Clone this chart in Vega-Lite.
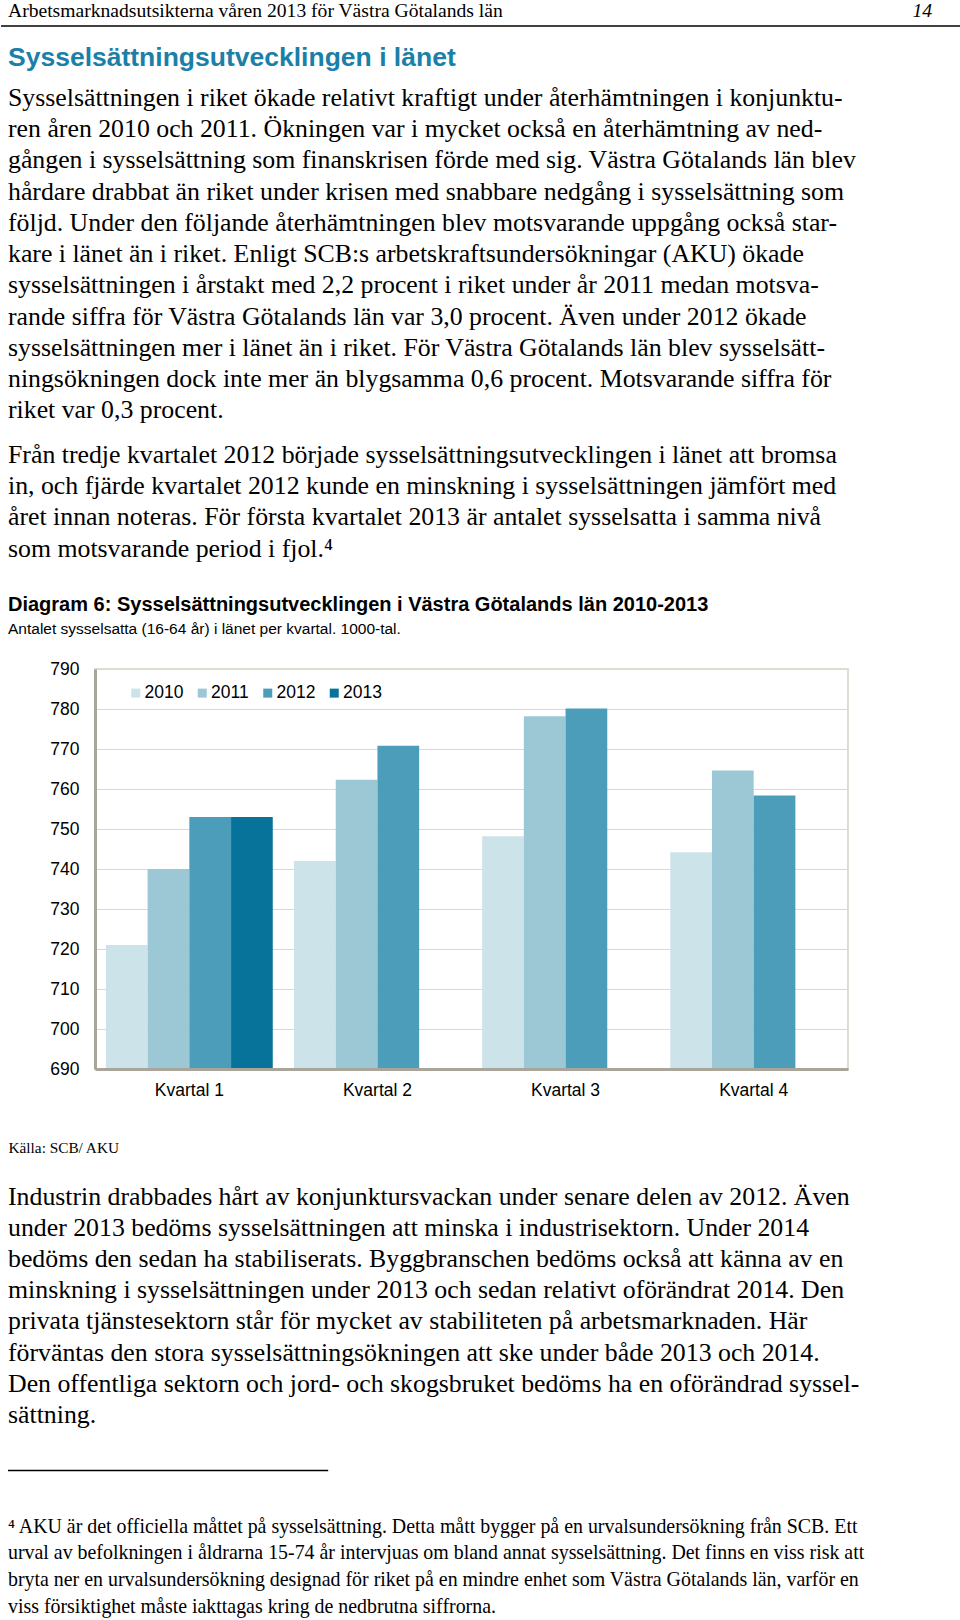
{
  "$schema": "https://vega.github.io/schema/vega-lite/v6.json",
  "background": "white",
  "padding": 0,
  "spacing": 0,
  "bounds": "full",
  "config": {"view": {"stroke": null}},
  "resolve": {"scale": {"color": "independent"}, "legend": {"color": "independent"}},
  "vconcat": [
    {
      "width": 753,
      "height": 659,
      "layer": [
        {
          "data": {"values": [{"line": 0, "text": "Arbetsmarknadsutsikterna våren 2013 för Västra Götalands län"}]},
          "mark": {"type": "text", "align": "left", "baseline": "middle", "font": "Liberation Serif", "fontSize": 19.6, "color": "#000"},
          "encoding": {
            "x": {"datum": 0, "type": "quantitative", "scale": {"domain": [0, 1], "range": [-87, 866]}, "axis": null},
            "y": {"field": "line", "type": "quantitative", "scale": {"domain": [0, 1], "range": [10.6, 40]}, "axis": null},
            "text": {"field": "text"}
          }
        },
        {
          "data": {"values": [{"line": 0, "text": "14"}]},
          "mark": {"type": "text", "align": "right", "baseline": "middle", "font": "Liberation Serif", "fontSize": 19.6, "fontStyle": "italic", "color": "#000"},
          "encoding": {
            "x": {"datum": 0.9696, "type": "quantitative", "scale": {"domain": [0, 1], "range": [-87, 866]}, "axis": null},
            "y": {"field": "line", "type": "quantitative", "scale": {"domain": [0, 1], "range": [10.6, 40]}, "axis": null},
            "text": {"field": "text"}
          }
        },
        {
          "data": {"values": [{"line": 0}]},
          "mark": {"type": "rule", "color": "#000", "strokeWidth": 1.5},
          "encoding": {
            "x": {"datum": -0.0073, "type": "quantitative", "scale": {"domain": [0, 1], "range": [-87, 866]}, "axis": null},
            "x2": {"datum": 1},
            "y": {"field": "line", "type": "quantitative", "scale": {"domain": [0, 1], "range": [26, 60]}, "axis": null}
          }
        },
        {
          "data": {"values": [{"line": 0, "text": "Sysselsättningsutvecklingen i länet"}]},
          "mark": {"type": "text", "align": "left", "baseline": "middle", "font": "Liberation Sans", "fontSize": 26.5, "fontWeight": "bold", "color": "#1b80a8"},
          "encoding": {
            "x": {"datum": 0, "type": "quantitative", "scale": {"domain": [0, 1], "range": [-87, 866]}, "axis": null},
            "y": {"field": "line", "type": "quantitative", "scale": {"domain": [0, 1], "range": [58, 90]}, "axis": null},
            "text": {"field": "text"}
          }
        },
        {
          "data": {"values": [
            {"line": 0, "text": "Sysselsättningen i riket ökade relativt kraftigt under återhämtningen i konjunktu-"},
            {"line": 1, "text": "ren åren 2010 och 2011. Ökningen var i mycket också en återhämtning av ned-"},
            {"line": 2, "text": "gången i sysselsättning som finanskrisen förde med sig. Västra Götalands län blev"},
            {"line": 3, "text": "hårdare drabbat än riket under krisen med snabbare nedgång i sysselsättning som"},
            {"line": 4, "text": "följd. Under den följande återhämtningen blev motsvarande uppgång också star-"},
            {"line": 5, "text": "kare i länet än i riket. Enligt SCB:s arbetskraftsundersökningar (AKU) ökade"},
            {"line": 6, "text": "sysselsättningen i årstakt med 2,2 procent i riket under år 2011 medan motsva-"},
            {"line": 7, "text": "rande siffra för Västra Götalands län var 3,0 procent. Även under 2012 ökade"},
            {"line": 8, "text": "sysselsättningen mer i länet än i riket. För Västra Götalands län blev sysselsätt-"},
            {"line": 9, "text": "ningsökningen dock inte mer än blygsamma 0,6 procent. Motsvarande siffra för"},
            {"line": 10, "text": "riket var 0,3 procent."}
          ]},
          "mark": {"type": "text", "align": "left", "baseline": "middle", "font": "Liberation Serif", "fontSize": 25.8, "color": "#000"},
          "encoding": {
            "x": {"datum": 0, "type": "quantitative", "scale": {"domain": [0, 1], "range": [-87, 866]}, "axis": null},
            "y": {"field": "line", "type": "quantitative", "scale": {"domain": [0, 10], "range": [98, 410.2]}, "axis": null},
            "text": {"field": "text"}
          }
        },
        {
          "data": {"values": [
            {"line": 0, "text": "Från tredje kvartalet 2012 började sysselsättningsutvecklingen i länet att bromsa"},
            {"line": 1, "text": "in, och fjärde kvartalet 2012 kunde en minskning i sysselsättningen jämfört med"},
            {"line": 2, "text": "året innan noteras. För första kvartalet 2013 är antalet sysselsatta i samma nivå"},
            {"line": 3, "text": "som motsvarande period i fjol.⁴"}
          ]},
          "mark": {"type": "text", "align": "left", "baseline": "middle", "font": "Liberation Serif", "fontSize": 25.8, "color": "#000"},
          "encoding": {
            "x": {"datum": 0, "type": "quantitative", "scale": {"domain": [0, 1], "range": [-87, 866]}, "axis": null},
            "y": {"field": "line", "type": "quantitative", "scale": {"domain": [0, 3], "range": [455, 548.6]}, "axis": null},
            "text": {"field": "text"}
          }
        },
        {
          "data": {"values": [{"line": 0, "text": "Diagram 6: Sysselsättningsutvecklingen i Västra Götalands län 2010-2013"}]},
          "mark": {"type": "text", "align": "left", "baseline": "middle", "font": "Liberation Sans", "fontSize": 20, "fontWeight": "bold", "color": "#000"},
          "encoding": {
            "x": {"datum": 0, "type": "quantitative", "scale": {"domain": [0, 1], "range": [-87, 866]}, "axis": null},
            "y": {"field": "line", "type": "quantitative", "scale": {"domain": [0, 1], "range": [604.5, 630]}, "axis": null},
            "text": {"field": "text"}
          }
        },
        {
          "data": {"values": [{"line": 0, "text": "Antalet sysselsatta (16-64 år) i länet per kvartal. 1000-tal."}]},
          "mark": {"type": "text", "align": "left", "baseline": "middle", "font": "Liberation Sans", "fontSize": 15.5, "color": "#000"},
          "encoding": {
            "x": {"datum": 0, "type": "quantitative", "scale": {"domain": [0, 1], "range": [-87, 866]}, "axis": null},
            "y": {"field": "line", "type": "quantitative", "scale": {"domain": [0, 1], "range": [629, 650]}, "axis": null},
            "text": {"field": "text"}
          }
        }
      ],
      "resolve": {"scale": {"y": "independent"}}
    },
    {
      "width": 753,
      "height": 400,
      "view": {"stroke": "#d5d1c9", "strokeWidth": 1.5},
      "data": {"values": [
        {"kvartal": "Kvartal 1", "year": "2010", "value": 721},
        {"kvartal": "Kvartal 1", "year": "2011", "value": 740},
        {"kvartal": "Kvartal 1", "year": "2012", "value": 753},
        {"kvartal": "Kvartal 1", "year": "2013", "value": 753},
        {"kvartal": "Kvartal 2", "year": "2010", "value": 742},
        {"kvartal": "Kvartal 2", "year": "2011", "value": 762.3},
        {"kvartal": "Kvartal 2", "year": "2012", "value": 770.8},
        {"kvartal": "Kvartal 3", "year": "2010", "value": 748.2},
        {"kvartal": "Kvartal 3", "year": "2011", "value": 778.2},
        {"kvartal": "Kvartal 3", "year": "2012", "value": 780.1},
        {"kvartal": "Kvartal 4", "year": "2010", "value": 744.2},
        {"kvartal": "Kvartal 4", "year": "2011", "value": 764.6},
        {"kvartal": "Kvartal 4", "year": "2012", "value": 758.4}
      ]},
      "mark": {"type": "bar"},
      "encoding": {
        "x": {
          "field": "kvartal", "type": "nominal",
          "sort": ["Kvartal 1", "Kvartal 2", "Kvartal 3", "Kvartal 4"],
          "scale": {"paddingInner": 0.113, "paddingOuter": 0.058},
          "axis": {
            "title": "Källa: SCB/ AKU", "titleX": -87, "titleY": 78, "titleAlign": "left", "titleBaseline": "middle",
            "titleFont": "Liberation Serif", "titleFontSize": 15.3, "titleFontWeight": "normal", "titleColor": "#000",
            "labelAngle": 0, "labelFont": "Liberation Sans", "labelFontSize": 17.5, "labelColor": "#000", "labelPadding": 12,
            "ticks": false, "grid": false, "domainColor": "#aaa59b", "domainWidth": 3, "zindex": 1
          }
        },
        "xOffset": {"field": "year", "type": "nominal", "sort": ["2010", "2011", "2012", "2013"], "scale": {"paddingInner": 0, "paddingOuter": 0}},
        "y": {
          "field": "value", "type": "quantitative",
          "scale": {"domain": [690, 790], "zero": false, "nice": false},
          "axis": {
            "title": null, "values": [690, 700, 710, 720, 730, 740, 750, 760, 770, 780, 790],
            "ticks": false, "labelPadding": 16, "labelFont": "Liberation Sans", "labelFontSize": 17.5, "labelColor": "#000",
            "domainColor": "#aaa59b", "domainWidth": 3, "grid": true, "gridColor": "#d9d9d9", "gridWidth": 1
          }
        },
        "y2": {"datum": 690},
        "color": {
          "field": "year", "type": "nominal",
          "scale": {"domain": ["2010", "2011", "2012", "2013"], "range": ["#cde3ea", "#9cc8d6", "#4b9db9", "#08739a"]},
          "legend": {
            "orient": "none", "legendX": 32, "legendY": 15, "direction": "horizontal", "columns": 4, "title": null,
            "symbolType": "square", "symbolSize": 81, "symbolStrokeWidth": 0, "labelFont": "Liberation Sans", "labelFontSize": 17.5,
            "labelColor": "#000", "labelOffset": 0, "columnPadding": 9.5, "padding": 0
          }
        }
      }
    },
    {
      "width": 753,
      "height": 466,
      "layer": [
        {
          "data": {"values": [
            {"line": 0, "text": "Industrin drabbades hårt av konjunktursvackan under senare delen av 2012. Även"},
            {"line": 1, "text": "under 2013 bedöms sysselsättningen att minska i industrisektorn. Under 2014"},
            {"line": 2, "text": "bedöms den sedan ha stabiliserats. Byggbranschen bedöms också att känna av en"},
            {"line": 3, "text": "minskning i sysselsättningen under 2013 och sedan relativt oförändrat 2014. Den"},
            {"line": 4, "text": "privata tjänstesektorn står för mycket av stabiliteten på arbetsmarknaden. Här"},
            {"line": 5, "text": "förväntas den stora sysselsättningsökningen att ske under både 2013 och 2014."},
            {"line": 6, "text": "Den offentliga sektorn och jord- och skogsbruket bedöms ha en oförändrad syssel-"},
            {"line": 7, "text": "sättning."}
          ]},
          "mark": {"type": "text", "align": "left", "baseline": "middle", "font": "Liberation Serif", "fontSize": 25.8, "color": "#000"},
          "encoding": {
            "x": {"datum": 0, "type": "quantitative", "scale": {"domain": [0, 1], "range": [-87, 866]}, "axis": null},
            "y": {"field": "line", "type": "quantitative", "scale": {"domain": [0, 7], "range": [39.5, 257.9]}, "axis": null},
            "text": {"field": "text"}
          }
        },
        {
          "data": {"values": [{"line": 0}]},
          "mark": {"type": "rule", "color": "#000", "strokeWidth": 1.5},
          "encoding": {
            "x": {"datum": 0, "type": "quantitative", "scale": {"domain": [0, 1], "range": [-87, 866]}, "axis": null},
            "x2": {"datum": 0.336},
            "y": {"field": "line", "type": "quantitative", "scale": {"domain": [0, 1], "range": [313.5, 340]}, "axis": null}
          }
        },
        {
          "data": {"values": [
            {"line": 0, "text": "⁴ AKU är det officiella måttet på sysselsättning. Detta mått bygger på en urvalsundersökning från SCB. Ett"},
            {"line": 1, "text": "urval av befolkningen i åldrarna 15-74 år intervjuas om bland annat sysselsättning. Det finns en viss risk att"},
            {"line": 2, "text": "bryta ner en urvalsundersökning designad för riket på en mindre enhet som Västra Götalands län, varför en"},
            {"line": 3, "text": "viss försiktighet måste iakttagas kring de nedbrutna siffrorna."}
          ]},
          "mark": {"type": "text", "align": "left", "baseline": "middle", "font": "Liberation Serif", "fontSize": 19.9, "color": "#000"},
          "encoding": {
            "x": {"datum": 0, "type": "quantitative", "scale": {"domain": [0, 1], "range": [-87, 866]}, "axis": null},
            "y": {"field": "line", "type": "quantitative", "scale": {"domain": [0, 3], "range": [369.5, 450.2]}, "axis": null},
            "text": {"field": "text"}
          }
        }
      ],
      "resolve": {"scale": {"y": "independent"}}
    }
  ]
}
